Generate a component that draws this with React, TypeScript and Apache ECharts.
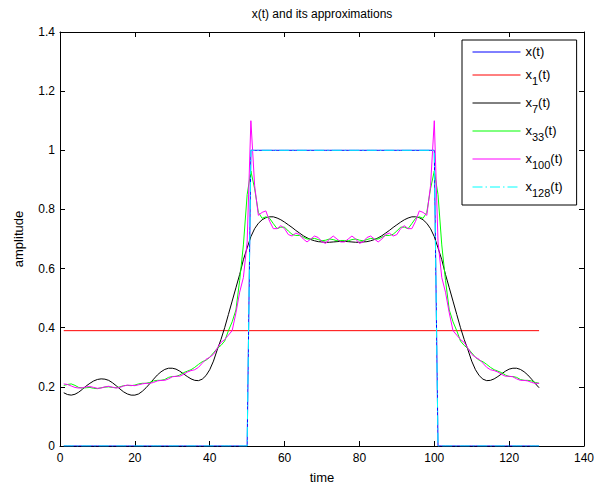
import React, { useEffect, useRef } from "react";
import * as echarts from "echarts";

const chartTitle = "x(t) and its approximations";
const xAxisName = "time";
const yAxisName = "amplitude";
const xTickValues = [0, 20, 40, 60, 80, 100, 120, 140];
const yTickValues = [0, 0.2, 0.4, 0.6, 0.8, 1, 1.2, 1.4];

const seriesNames = ["x(t)", "x1(t)", "x7(t)", "x33(t)", "x100(t)", "x128(t)"];

// samples t = 1 .. 128
const xValues = [
  0, 0, 0, 0, 0, 0, 0, 0, 0, 0,
  0, 0, 0, 0, 0, 0, 0, 0, 0, 0,
  0, 0, 0, 0, 0, 0, 0, 0, 0, 0,
  0, 0, 0, 0, 0, 0, 0, 0, 0, 0,
  0, 0, 0, 0, 0, 0, 0, 0, 0, 0,
  1, 1, 1, 1, 1, 1, 1, 1, 1, 1,
  1, 1, 1, 1, 1, 1, 1, 1, 1, 1,
  1, 1, 1, 1, 1, 1, 1, 1, 1, 1,
  1, 1, 1, 1, 1, 1, 1, 1, 1, 1,
  1, 1, 1, 1, 1, 1, 1, 1, 1, 1,
  0, 0, 0, 0, 0, 0, 0, 0, 0, 0,
  0, 0, 0, 0, 0, 0, 0, 0, 0, 0,
  0, 0, 0, 0, 0, 0, 0, 0,
];

const x1Time = [1, 128];
const x1Values = [0.39, 0.39];

const x7Values = [
  0.18, 0.174, 0.172, 0.175, 0.182, 0.192, 0.203, 0.212, 0.22, 0.225,
  0.227, 0.226, 0.222, 0.214, 0.204, 0.193, 0.183, 0.176, 0.172, 0.172,
  0.176, 0.185, 0.197, 0.211, 0.226, 0.24, 0.251, 0.259, 0.263, 0.263,
  0.26, 0.253, 0.244, 0.235, 0.227, 0.222, 0.221, 0.226, 0.238, 0.258,
  0.287, 0.325, 0.36, 0.4, 0.445, 0.49, 0.535, 0.58, 0.63, 0.67,
  0.708, 0.735, 0.753, 0.765, 0.772, 0.775, 0.775, 0.771, 0.765, 0.757,
  0.748, 0.739, 0.729, 0.72, 0.711, 0.704, 0.698, 0.694, 0.691, 0.69,
  0.689, 0.689, 0.69, 0.691, 0.692,
  0.692, 0.691, 0.69, 0.689, 0.689,
  0.69, 0.691, 0.694, 0.698, 0.704, 0.711, 0.72, 0.729, 0.739, 0.748,
  0.757, 0.765, 0.771, 0.775, 0.775, 0.772, 0.765, 0.753, 0.735, 0.708,
  0.67, 0.63, 0.58, 0.535, 0.49, 0.445, 0.4, 0.36, 0.325, 0.287,
  0.258, 0.238, 0.226, 0.221, 0.222, 0.227, 0.235, 0.244, 0.253, 0.26,
  0.263, 0.263, 0.259, 0.251, 0.24, 0.226, 0.211, 0.197,
];

const x33Values = [
  0.205, 0.208, 0.21, 0.205, 0.198, 0.196, 0.197, 0.198, 0.195, 0.194,
  0.197, 0.199, 0.2, 0.198, 0.197, 0.2, 0.204, 0.205, 0.204, 0.206,
  0.21, 0.212, 0.212, 0.215, 0.22, 0.222, 0.222, 0.225, 0.232, 0.235,
  0.235, 0.24, 0.248, 0.253, 0.258, 0.266, 0.276, 0.285, 0.29, 0.3,
  0.315, 0.33, 0.34, 0.355, 0.39, 0.42, 0.46, 0.56, 0.68, 0.85,
  0.93, 0.87, 0.79, 0.77, 0.775, 0.77, 0.752, 0.735, 0.74, 0.74,
  0.727, 0.716, 0.712, 0.712, 0.706, 0.7, 0.7, 0.702, 0.698, 0.694,
  0.696, 0.7, 0.698, 0.694, 0.695,
  0.695, 0.694, 0.698, 0.7, 0.696,
  0.694, 0.698, 0.702, 0.7, 0.7, 0.706, 0.712, 0.712, 0.716, 0.727,
  0.74, 0.74, 0.735, 0.752, 0.77, 0.775, 0.77, 0.79, 0.87, 0.93,
  0.85, 0.68, 0.56, 0.46, 0.42, 0.39, 0.355, 0.34, 0.33, 0.315,
  0.3, 0.29, 0.285, 0.276, 0.266, 0.258, 0.253, 0.248, 0.24, 0.235,
  0.235, 0.232, 0.225, 0.222, 0.222, 0.22, 0.215, 0.212,
];

const x100Values = [
  0.21, 0.208, 0.203, 0.198, 0.196, 0.197, 0.2, 0.201, 0.198, 0.195,
  0.196, 0.2, 0.202, 0.199, 0.196, 0.198, 0.203, 0.206, 0.205, 0.204,
  0.207, 0.21, 0.212, 0.212, 0.215, 0.22, 0.222, 0.222, 0.227, 0.234,
  0.236, 0.236, 0.242, 0.25, 0.255, 0.258, 0.266, 0.28, 0.293, 0.3,
  0.31, 0.33, 0.35, 0.36, 0.375, 0.39, 0.45, 0.52, 0.57, 0.69,
  1.1, 0.88, 0.78, 0.79, 0.795, 0.76, 0.735, 0.735, 0.745, 0.735,
  0.715, 0.71, 0.72, 0.715, 0.7, 0.69, 0.7, 0.71, 0.705, 0.69,
  0.685, 0.7, 0.71, 0.7, 0.69,
  0.69, 0.7, 0.71, 0.7, 0.685,
  0.69, 0.705, 0.71, 0.7, 0.69, 0.7, 0.715, 0.72, 0.71, 0.715,
  0.735, 0.745, 0.735, 0.735, 0.76, 0.795, 0.79, 0.78, 0.88, 1.1,
  0.69, 0.57, 0.52, 0.45, 0.39, 0.375, 0.36, 0.35, 0.33, 0.31,
  0.3, 0.293, 0.28, 0.266, 0.258, 0.255, 0.25, 0.242, 0.236, 0.236,
  0.234, 0.227, 0.222, 0.222, 0.22, 0.215, 0.212, 0.212,
];

const x128Values = [
  0, 0, 0, 0, 0, 0, 0, 0, 0, 0,
  0, 0, 0, 0, 0, 0, 0, 0, 0, 0,
  0, 0, 0, 0, 0, 0, 0, 0, 0, 0,
  0, 0, 0, 0, 0, 0, 0, 0, 0, 0,
  0, 0, 0, 0, 0, 0, 0, 0, 0, 0,
  1, 1, 1, 1, 1, 1, 1, 1, 1, 1,
  1, 1, 1, 1, 1, 1, 1, 1, 1, 1,
  1, 1, 1, 1, 1, 1, 1, 1, 1, 1,
  1, 1, 1, 1, 1, 1, 1, 1, 1, 1,
  1, 1, 1, 1, 1, 1, 1, 1, 1, 1,
  0, 0, 0, 0, 0, 0, 0, 0, 0, 0,
  0, 0, 0, 0, 0, 0, 0, 0, 0, 0,
  0, 0, 0, 0, 0, 0, 0, 0,
];

const FONT = "Liberation Sans";

function pairs(values: number[]): number[][] {
  return values.map((v, i) => [i + 1, v]);
}

export default function App() {
  const ref = useRef<HTMLDivElement>(null);
  useEffect(() => {
    if (!ref.current) return;
    const chart = echarts.init(ref.current, null, { renderer: "svg" });
    const axisLine = { show: true, onZero: false, lineStyle: { color: "#000", width: 1 } };
    const axisTick = { show: true, inside: true, length: 5, lineStyle: { color: "#000", width: 1 } };
    const xMin = xTickValues[0];
    const xMax = xTickValues[xTickValues.length - 1];
    const xInt = xTickValues[1] - xTickValues[0];
    const yMin = yTickValues[0];
    const yMax = yTickValues[yTickValues.length - 1];
    const yInt = 0.2;

    const mk = (name: string, data: number[][], color: string, type: any = "solid") => ({
      name,
      type: "line",
      data,
      symbol: "none",
      showSymbol: false,
      lineStyle: { color, width: 1, type },
      itemStyle: { color },
      emphasis: { disabled: true },
      silent: true,
    });

    chart.setOption({
      animation: false,
      backgroundColor: "#fff",
      title: {
        text: chartTitle,
        left: 322,
        textAlign: "center",
        top: 8,
        padding: 0,
        textStyle: { color: "#000", fontSize: 12, fontWeight: "normal", fontFamily: FONT },
      },
      grid: { left: 60, right: 11, top: 32, bottom: 39, containLabel: false, outerBoundsMode: "none" },
      xAxis: [
        {
          type: "value", min: xMin, max: xMax, interval: xInt, position: "bottom",
          name: xAxisName, nameLocation: "middle", nameGap: 25,
          nameTextStyle: { color: "#000", fontSize: 13, fontFamily: FONT },
          axisLine, axisTick,
          axisLabel: { color: "#000", fontSize: 12, margin: 6, fontFamily: FONT, showMinLabel: true, showMaxLabel: true },
          splitLine: { show: false },
        },
        {
          type: "value", min: xMin, max: xMax, interval: xInt, position: "top",
          axisLine, axisTick, axisLabel: { show: false }, splitLine: { show: false },
        },
      ],
      yAxis: [
        {
          type: "value", min: yMin, max: yMax, interval: yInt, position: "left",
          name: yAxisName, nameLocation: "middle", nameGap: 35,
          nameTextStyle: { color: "#000", fontSize: 13, fontFamily: FONT },
          axisLine, axisTick,
          axisLabel: { color: "#000", fontSize: 12, margin: 5, fontFamily: FONT, showMinLabel: true, showMaxLabel: true },
          splitLine: { show: false },
        },
        {
          type: "value", min: yMin, max: yMax, interval: yInt, position: "right",
          axisLine, axisTick, axisLabel: { show: false }, splitLine: { show: false },
        },
      ],
      legend: {
        orient: "vertical",
        left: 462,
        top: 40,
        padding: [5, 14, 7, 10],
        itemWidth: 48,
        itemHeight: 14,
        itemGap: 10,
        borderColor: "#000",
        borderWidth: 1,
        borderRadius: 0,
        backgroundColor: "#fff",
        selectedMode: false,
        itemStyle: { opacity: 0 },
        lineStyle: { width: 1 },
        data: seriesNames,
        formatter: (name: string) => {
          const m = /^x(\d+)\(t\)$/.exec(name);
          if (m) return `{m|x}{s|${m[1]}}{m|(t)}`;
          return `{m|${name}}`;
        },
        textStyle: {
          color: "#000",
          fontFamily: FONT,
          fontSize: 13,
          rich: {
            m: { fontSize: 13, lineHeight: 14, verticalAlign: "top", fontFamily: FONT, color: "#000" },
            s: { fontSize: 11, lineHeight: 10, padding: [7, 0, 0, 0], verticalAlign: "top", fontFamily: FONT, color: "#000" },
          },
        },
      },
      series: [
        mk(seriesNames[0], pairs(xValues), "#0000ff"),
        mk(seriesNames[1], x1Time.map((t, i) => [t, x1Values[i]]), "#ff0000"),
        mk(seriesNames[2], pairs(x7Values), "#000000"),
        mk(seriesNames[3], pairs(x33Values), "#00ff00"),
        mk(seriesNames[4], pairs(x100Values), "#ff00ff"),
        mk(seriesNames[5], pairs(x128Values), "#00ffff", [10, 3, 1.5, 3]),
      ],
    });
    return () => chart.dispose();
  }, []);
  return (
    <div
      ref={ref}
      style={{ position: "fixed", left: 0, top: 0, width: 595, height: 485, background: "#fff" }}
    />
  );
}
